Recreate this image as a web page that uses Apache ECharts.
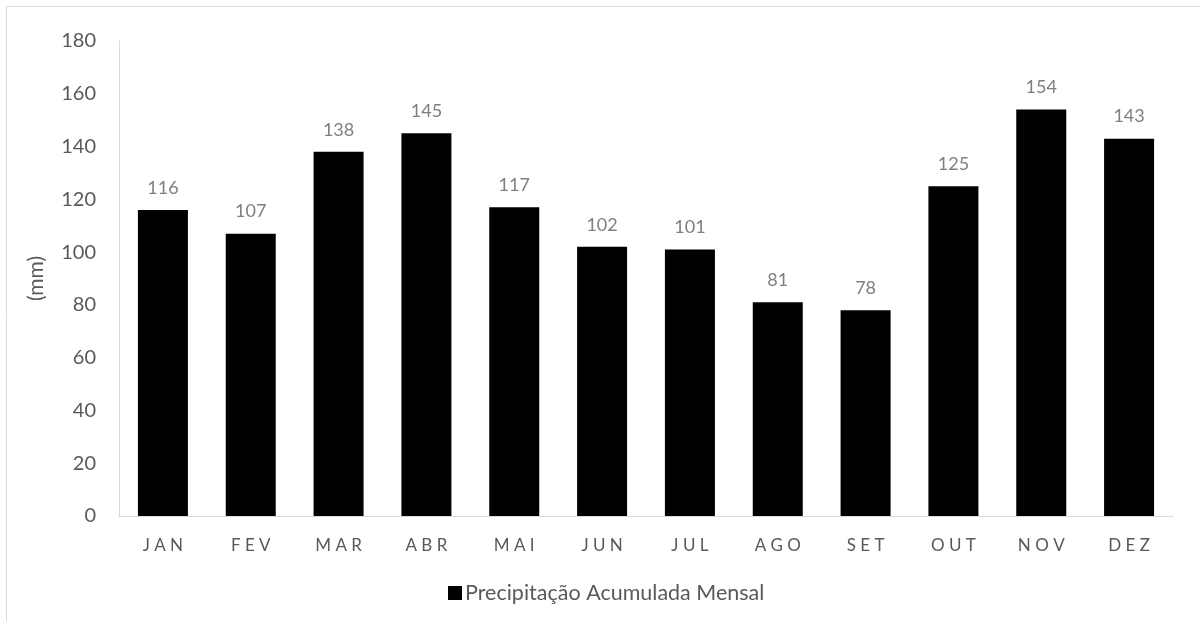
<!DOCTYPE html>
<html lang="pt">
  <head>
    <meta charset="UTF-8">
    <title>Precipitação Acumulada Mensal</title>
    <script src="https://cdn.jsdelivr.net/npm/echarts@6/dist/echarts.min.js"></script>
    <style>
      html, body { margin: 0; padding: 0; background: #fff; }
    </style>
  </head>
  <body>
    <div id="main" style="width: 1200px;height:621px;"></div>
    <script type="text/javascript">
      // dados
      var meses = ['JAN', 'FEV', 'MAR', 'ABR', 'MAI', 'JUN', 'JUL', 'AGO', 'SET', 'OUT', 'NOV', 'DEZ'];
      var precipitacao = [116, 107, 138, 145, 117, 102, 101, 81, 78, 125, 154, 143];
      var nomeSerie = 'Precipitação Acumulada Mensal';

      var fonte = 'Lato, "Open Sans", sans-serif';
      var myChart = echarts.init(document.getElementById('main'));

      var option = {
        animation: false,
        textStyle: { fontFamily: fonte },
        // moldura do gráfico (só topo e esquerda aparecem)
        graphic: [{
          type: 'rect',
          silent: true,
          shape: { x: 6.5, y: 6.5, width: 1400, height: 800 },
          style: { fill: 'none', stroke: '#d9d9d9', lineWidth: 1 }
        }],
        grid: { left: 119, top: 41, right: 27, bottom: 105 },
        legend: {
          data: [nomeSerie],
          left: 443,
          top: 577,
          itemWidth: 14,
          itemHeight: 14,
          itemGap: 6,
          icon: 'rect',
          textStyle: { fontSize: 21.5, color: '#595959', fontFamily: fonte, padding: [0, 0, 0, -2] }
        },
        xAxis: {
          type: 'category',
          data: meses,
          axisLine: { lineStyle: { color: '#d9d9d9', width: 1 } },
          axisTick: { show: false },
          axisLabel: {
            color: '#595959',
            fontSize: 17,
            margin: 21,
            formatter: function (v) { return v.split('').join(' '); }
          }
        },
        yAxis: {
          type: 'value',
          min: 0,
          max: 180,
          interval: 20,
          name: '(mm)',
          nameLocation: 'middle',
          nameGap: 72,
          nameTextStyle: { fontSize: 21, color: '#595959' },
          axisLine: { show: true, lineStyle: { color: '#d9d9d9', width: 1 } },
          axisTick: { show: false },
          splitLine: { show: false },
          axisLabel: { color: '#595959', fontSize: 20, margin: 23 }
        },
        series: [{
          name: nomeSerie,
          type: 'bar',
          data: precipitacao,
          barWidth: 50,
          itemStyle: { color: '#000' },
          label: {
            show: true,
            position: 'top',
            distance: 13,
            color: '#7f7f7f',
            fontSize: 18
          }
        }]
      };

      myChart.setOption(option);
    </script>
  </body>
</html>
